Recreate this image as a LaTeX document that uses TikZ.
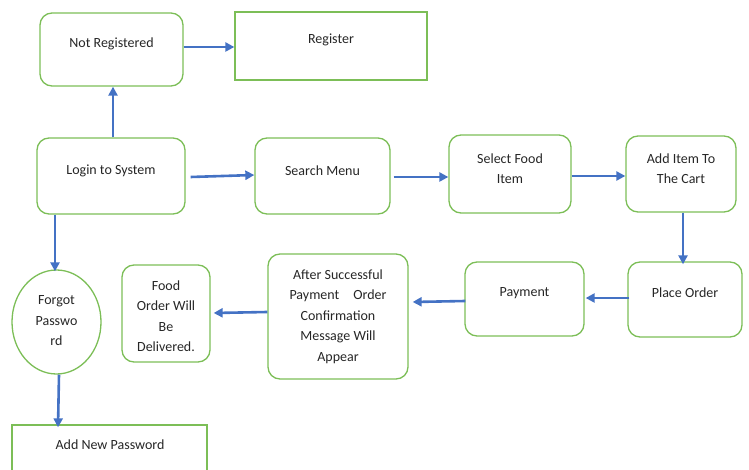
\documentclass[tikz,border=0pt]{standalone}
\usepackage{fontspec}
\setmainfont{Carlito}
\usetikzlibrary{arrows.meta,shapes.geometric}
\definecolor{boxgreen}{HTML}{7CBE57}
\definecolor{arrblue}{HTML}{4472C4}
\tikzset{
  rbox/.style={draw=boxgreen, line width=1.3pt, rounded corners=12pt, inner sep=0pt},
  sbox/.style={draw=boxgreen, line width=1.3pt, inner sep=0pt},
  lbl/.style={font=\fontsize{14}{20.5}\selectfont, align=center, inner sep=0pt, text=black!85},
  conn/.style={draw=arrblue, line width=2.6pt, -{Triangle[length=9pt,width=9pt]}},
}
\begin{document}
\begin{tikzpicture}[x=1pt,y=-1pt]
\useasboundingbox (0,0) rectangle (749,470);
% boxes
\node[rbox, minimum width=143pt, minimum height=73pt] (notreg) at (111.5,49.5) {};
\node[sbox, minimum width=192pt, minimum height=68pt] (reg) at (331,46) {};
\node[rbox, minimum width=148pt, minimum height=76pt] (login) at (111,176) {};
\node[rbox, minimum width=135pt, minimum height=76pt] (search) at (322.5,176) {};
\node[rbox, minimum width=122pt, minimum height=78pt] (select) at (510,174) {};
\node[rbox, minimum width=110pt, minimum height=76pt] (cart) at (681,174) {};
\node[rbox, minimum width=114pt, minimum height=75pt] (place) at (685,299.5) {};
\node[rbox, minimum width=119pt, minimum height=74pt] (pay) at (524.5,299) {};
\node[rbox, minimum width=140pt, minimum height=125pt] (after) at (338,316.5) {};
\node[rbox, minimum width=88pt, minimum height=97pt] (food) at (166,313.5) {};
\node[ellipse, draw=boxgreen, line width=1.3pt, minimum width=89pt, minimum height=104pt, inner sep=0pt] (forgot) at (56.5,322) {};
\node[sbox, minimum width=195pt, minimum height=60pt] (newpw) at (109.5,455) {};
% texts
\node[lbl] (tnotreg) at (111.5,44) {Not Registered};
\node[lbl] (treg) at (331,40) {Register};
\node[lbl] (tlogin) at (111,171) {Login to System};
\node[lbl] (tsearch) at (322.5,171) {Search Menu};
\node[lbl] (tselect) at (510,168.5) {Select Food\\Item};
\node[lbl] (tcart) at (681,168.5) {Add Item To\\The Cart};
\node[lbl] (tplace) at (685,293) {Place Order};
\node[lbl] (tpay) at (524.5,293) {Payment};
\node[lbl] (tafter) at (338,316.5) {After Successful\\Payment\quad Order\\Confirmation\\Message Will\\Appear};
\node[lbl] (tfood) at (166,316) {Food\\Order Will\\Be\\Delivered.};
\node[lbl] (tforgot) at (56.5,321) {Forgot\\Passwo\\rd};
\node[lbl] (tnewpw) at (110,445) {Add New Password};
% connectors
\draw[conn] (login.north -| 113,0) -- (notreg.south -| 113,0);
\draw[conn] (notreg.east |- 0,47) -- (reg.west |- 0,47);
\draw[conn] ([xshift=5pt]login.east |- 0,177) -- (search.west |- 0,175);
\draw[conn] ([xshift=3pt]search.east |- 0,177) -- (select.west |- 0,177);
\draw[conn] (select.east |- 0,176) -- (cart.west |- 0,176);
\draw[conn] (cart.south -| 683,0) -- ([yshift=-3pt]place.north -| 683,0);
\draw[conn] ([xshift=2pt]place.west |- 0,298) -- ([xshift=1pt]pay.east |- 0,298);
\draw[conn] ([xshift=1pt]pay.west |- 0,301) -- ([xshift=4pt]after.east |- 0,302);
\draw[conn] (after.west |- 0,312) -- ([xshift=3pt]food.east |- 0,313);
\draw[conn] (login.south -| 55,0) -- ([yshift=-2pt]forgot.north -| 55,0);
\draw[conn] (forgot.south -| 59,0) -- ([yshift=-3pt]newpw.north -| 58,0);
\end{tikzpicture}
\end{document}
